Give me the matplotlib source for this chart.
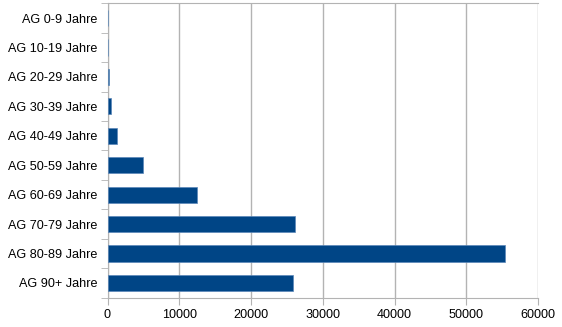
import numpy as np
import matplotlib.pyplot as plt

categories = ['AG 0-9 Jahre', 'AG 10-19 Jahre', 'AG 20-29 Jahre', 'AG 30-39 Jahre',
              'AG 40-49 Jahre', 'AG 50-59 Jahre', 'AG 60-69 Jahre', 'AG 70-79 Jahre',
              'AG 80-89 Jahre', 'AG 90+ Jahre']
values = [50, 60, 150, 550, 1300, 5000, 12500, 26200, 55400, 25900]
xticks = [0, 10000, 20000, 30000, 40000, 50000, 60000]

plt.rcParams['font.family'] = ['Liberation Sans', 'DejaVu Sans']

fig = plt.figure(figsize=(5.62, 3.27), dpi=100)
ax = fig.add_axes([107.5/562, 1-297.7/327, (538-107.5)/562, (297.7-3.3)/327])

y = np.arange(len(categories))
ax.barh(y, values, height=0.55, color='#004586', edgecolor='#5b87b8', linewidth=0.5, zorder=3)
ax.set_ylim(len(categories)-0.5, -0.5)
ax.set_xlim(0, 60000)
ax.set_xticks(xticks)
ax.set_xticklabels([str(t) for t in xticks])
ax.set_yticks(y)
ax.set_yticklabels(categories)
ax.set_yticks(np.arange(-0.5, len(categories)), minor=True)
ax.tick_params(axis='y', which='major', length=0, labelsize=9.1, pad=7)
ax.tick_params(axis='y', which='minor', length=5, color='#b3b3b3', direction='out')
ax.tick_params(axis='x', length=5, color='#b3b3b3', labelsize=9.1, pad=3)
ax.grid(axis='x', color='#b3b3b3', linewidth=1, zorder=0)
for s in ax.spines.values():
    s.set_color('#b3b3b3')
ax.spines['right'].set_visible(False)

plt.savefig('out.png', dpi=100)
